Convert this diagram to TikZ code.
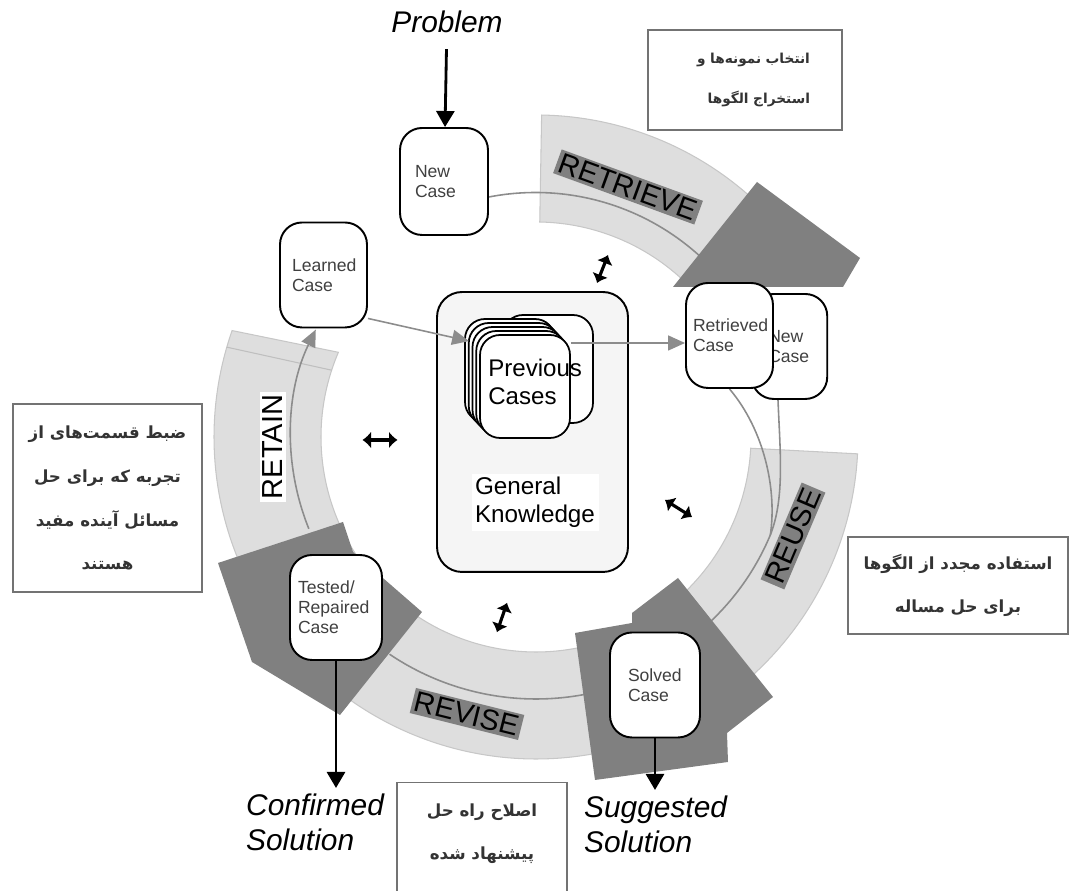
\documentclass[tikz,border=0pt]{standalone}
\usepackage{fontspec}
\setmainfont{Liberation Sans}
\newfontfamily\fafont[Script=Arabic]{DejaVu Sans}
\TeXXeTstate=1
\usetikzlibrary{arrows.meta,backgrounds}
\newcommand{\faline}[1]{\beginR#1\endR}

\begin{document}
\begin{tikzpicture}[x=0.02cm,y=0.02cm,
	band/.style={fill=black!13,draw=black!22,line width=0.6pt},
	head/.style={fill=black!50},
	conn/.style={draw=black!45,line width=0.9pt},
	garrow/.style={conn,-{Triangle[length=0.34cm,width=0.3cm]}},
	barrow/.style={line width=1.6pt,-{Triangle[length=0.32cm,width=0.36cm]}},
	dbl/.style={line width=1.8pt,{Latex[length=0.17cm,width=0.34cm]}-{Latex[length=0.17cm,width=0.34cm]}},
	case/.style={draw,line width=1.1pt,fill=white,rounded corners=0.44cm,minimum width=1.74cm,minimum height=2.1cm,align=left,font=\fontsize{10}{11.5}\selectfont,text=black!75},
	card/.style={draw,line width=1pt,fill=white,rounded corners=0.4cm,minimum width=1.8cm,minimum height=2.06cm},
	phase/.style={fill=black!50,inner sep=1.5pt,font=\fontsize{16.5}{18}\selectfont},
	outlbl/.style={align=left,font=\fontsize{17}{20}\selectfont\itshape},
	note/.style={draw=black!55,line width=0.7pt,fill=white,align=center,text=black!80,font=\fafont\bfseries\fontsize{9.5}{24}\selectfont}]
	\useasboundingbox (0,0) rectangle (1073,891);
	\coordinate (ctr) at (536,454);

	\node[draw,line width=1.1pt,fill=black!4,rounded corners=0.5cm,minimum width=3.82cm,minimum height=5.6cm] (gk) at (532.5,459) {};
	\node[fill=white,align=left,inner sep=2pt,font=\fontsize{13.8}{16}\selectfont] (gklabel) at (535,388.5) {General\\Knowledge};
	\node[card,minimum height=2.16cm] (backcard) at (548,522) {};
	\foreach \i in {4,3,2,1}
		\node[card] at (525-3.75*\i,504.5+4*\i) {};
	\node[card,label={[anchor=west,xshift=0.06cm,yshift=0.1cm,align=left,font=\fontsize{13.7}{16}\selectfont]west:Previous\\Cases}] (prev) at (525,504.5) {};

	\begin{scope}[every node/.style={case}]
		\node[minimum width=1.5cm,text width=0.85cm,inner xsep=0.33cm] (rnew) at (789.5,544.5) {New\\Case};
		\node[text width=1.46cm,inner xsep=0.14cm] (rcase) at (729.5,555.5) {Retrieved\\Case};
		\node[minimum width=1.76cm,minimum height=2.14cm,text width=1.16cm,inner xsep=0.3cm] (newcase) at (444,709.5) {New\\Case};
		\node[text width=1.26cm,inner xsep=0.24cm] (learned) at (323.5,616) {Learned\\Case};
		\node[minimum width=1.84cm,text width=1.52cm,inner xsep=0.16cm] (tested) at (336,283.5) {Tested/\\Repaired\\Case};
		\node[minimum width=1.8cm,text width=1.08cm,inner xsep=0.36cm] (solved) at (655,206) {Solved\\Case};
	\end{scope}

	\begin{pgfonlayer}{background}
		\foreach \sa/\sb/\ta/\tb in {89/46/46/89, -3/-50/-50/-3, -75/-135/-135/-75, 160.7/214/214/156.8}
			\filldraw[band] ([shift={(\sa:322)}]ctr) arc[start angle=\sa,end angle=\sb,radius=322] -- ([shift={(\ta:215)}]ctr) arc[start angle=\ta,end angle=\tb,radius=215] -- cycle;
		\draw[black!25,line width=0.6pt] ([shift={(163.8:322)}]ctr) -- ([shift={(161.9:215)}]ctr);

		\coordinate (jn) at ([shift={(-22.7:254)}]ctr);
		\draw[conn] ([yshift=-0.31cm]newcase.east) arc[start angle=101,end angle=47,radius=244];
		\draw[conn] ([xshift=-0.23cm]rnew.south) .. controls (780,440) and (785,393) .. (jn) arc[start angle=-22.7,end angle=-47,radius=254];
		\draw[conn] (rcase.south) .. controls (765,460) and (777,400) .. (jn);
		\draw[conn] ([shift={(-78:262)}]ctr) arc[start angle=-78,end angle=-124,radius=262];
		\draw[garrow] ([shift={(202:245)}]ctr) arc[start angle=202,end angle=154,radius=245];

		\fill[head] (757,709) -- (860,633) -- (843,604) -- (673,604) -- cycle;
		\fill[head] (678,313) -- (773,194) -- (727,158) -- (728,129) -- (595,111) -- (575,258) -- (632,268) -- (632,278) -- cycle;
		\fill[head] (218,328) -- (343,369) -- (353,339) -- (422,279) -- (340,176) -- (252,229) -- cycle;
	\end{pgfonlayer}

	\node[phase,rotate=-20] (retrieve) at (628,704) {RETRIEVE};
	\node[phase,rotate=67] (reuse) at (793,355) {REUSE};
	\node[phase,rotate=-14] (revise) at (467,177) {REVISE};
	\node[phase,fill=white,rotate=90] (retain) at (273,444) {RETAIN};

	\draw[garrow] ([yshift=0.2cm]learned.south east) -- ([xshift=-0.2cm,yshift=-0.14cm]prev.north west);
	\coordinate (rin) at ([yshift=-0.15cm]rcase.west);
	\draw[garrow] (rin -| prev.east) -- (rin);

	\node[outlbl] (problem) at (447,869) {Problem};
	\node[outlbl,anchor=north west] (confirmed) at (240,103) {Confirmed\\Solution};
	\node[outlbl,anchor=north west] (suggested) at (578,101) {Suggested\\Solution};
	\draw[barrow,shorten <=0.2cm] (problem) -- (newcase);
	\draw[barrow] (tested) -- (tested |- confirmed.north);
	\draw[barrow] (solved) -- (solved |- suggested.north);

	\foreach \x/\y/\a/\h/\l in {380/451/0/17.5/35, 602.5/622/68.6/15/30, 678.5/382.5/-32.2/16/32, 502/273.5/-109/15.5/31}
		\draw[dbl] (\x,\y) ++(\a:-\h) -- ++(\a:\l);

	\node[note,minimum width=3.88cm,minimum height=2cm,text width=2.6cm,inner xsep=0.64cm,align=right,font=\fafont\bfseries\fontsize{7.8}{22.7}\selectfont] (selnote) at (745,811) {\faline{انتخاب نمونه^^^^200cها و}\\\faline{استخراج الگوها}};
	\node[note,minimum width=3.78cm,minimum height=3.76cm,font=\fafont\bfseries\fontsize{9.5}{25}\selectfont] (retnote) at (107.5,393) {\faline{ضبط قسمت^^^^200cهای از}\\\faline{تجربه که برای حل}\\\faline{مسائل آینده مفید}\\\faline{هستند}};
	\node[note,minimum width=4.4cm,minimum height=1.94cm] (reunote) at (958,305.5) {\faline{استفاده مجدد از الگوها}\\\faline{برای حل مساله}};
	\node[note,minimum width=3.4cm,anchor=north,inner ysep=0pt,text height=1.53cm,text depth=2cm] (revnote) at (482,109) {\faline{اصلاح راه حل}\\\faline{پیشنهاد شده}};
\end{tikzpicture}
\end{document}
